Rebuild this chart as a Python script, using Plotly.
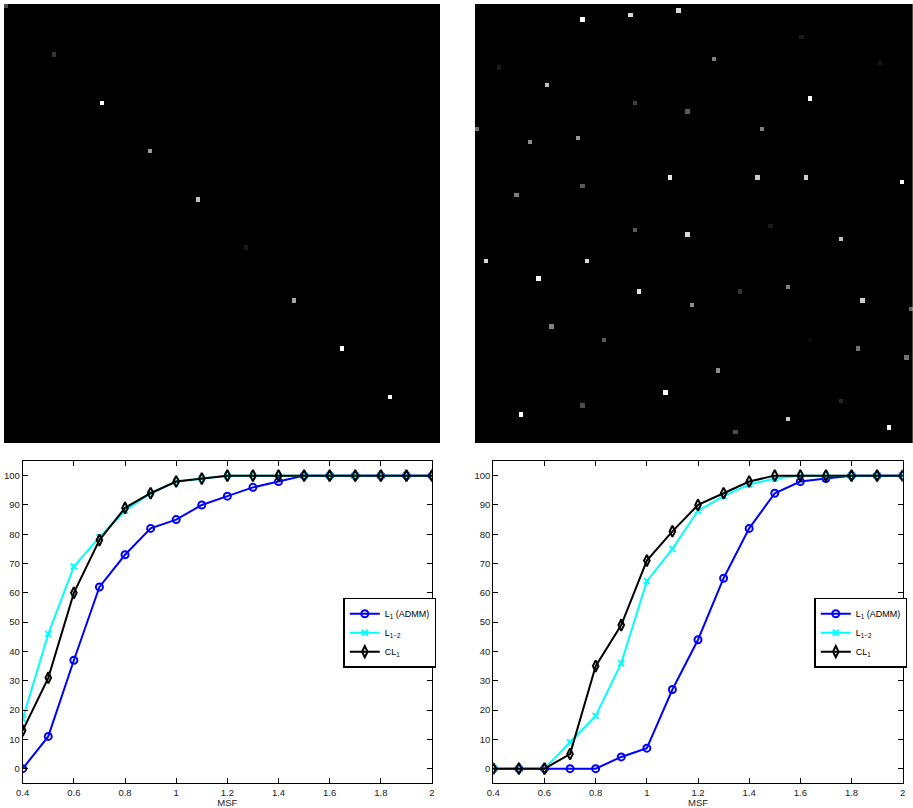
import numpy as np
import plotly.graph_objects as go

# ---------------- data ----------------
img_size = 100
# left sparse image: rows, cols, intensities
left_rows = [0, 11, 22, 33, 44, 55, 67, 78, 89]
left_cols = [0, 11, 22, 33, 44, 55, 66, 77, 88]
left_vals = [0.3, 0.2, 1.0, 0.6, 0.75, 0.1, 0.65, 1.0, 1.0]

# right sparse image
right_rows = [3, 2, 1, 7, 12, 14, 13, 18, 21, 22, 24, 28, 28, 31, 30, 39, 39, 39, 40, 41,
              43, 51, 50, 52, 53, 58, 58, 62, 65, 65, 64, 67, 68, 69, 73, 76, 76, 78, 80, 83,
              88, 91, 90, 93, 94, 96, 97]
right_cols = [24, 35, 46, 74, 54, 5, 92, 16, 76, 36, 48, 0, 65, 12, 23, 44, 64, 75, 97, 24,
              9, 36, 67, 48, 83, 2, 25, 14, 37, 60, 71, 88, 49, 99, 17, 29, 76, 87, 98, 55,
              43, 24, 83, 10, 71, 94, 59]
right_vals = [1.0, 0.85, 0.85, 0.1, 0.5, 0.1, 0.08, 0.75, 1.0, 0.25, 0.35, 0.45, 0.5, 0.55, 0.6, 0.9, 0.8, 0.8, 1.0, 0.35,
              0.5, 0.35, 0.1, 0.85, 0.75, 0.85, 0.85, 1.0, 0.9, 0.2, 0.5, 0.8, 0.55, 0.4, 0.5, 0.35, 0.05, 0.45, 0.45, 0.55,
              1.0, 0.3, 0.15, 1.0, 0.8, 1.0, 0.3]

msf = [0.4, 0.5, 0.6, 0.7, 0.8, 0.9, 1.0, 1.1, 1.2, 1.3, 1.4, 1.5, 1.6, 1.7, 1.8, 1.9, 2.0]

left_l1 = [0, 11, 37, 62, 73, 82, 85, 90, 93, 96, 98, 100, 100, 100, 100, 100, 100]
left_l12 = [17, 46, 69, 79, 88, 94, 98, 99, 100, 100, 100, 100, 100, 100, 100, 100, 100]
left_cl1 = [13, 31, 60, 78, 89, 94, 98, 99, 100, 100, 100, 100, 100, 100, 100, 100, 100]

right_l1 = [0, 0, 0, 0, 0, 4, 7, 27, 44, 65, 82, 94, 98, 99, 100, 100, 100]
right_l12 = [0, 0, 0, 9, 18, 36, 64, 75, 88, 93, 97, 99, 100, 100, 100, 100, 100]
right_cl1 = [0, 0, 0, 5, 35, 49, 71, 81, 90, 94, 98, 100, 100, 100, 100, 100, 100]

series_names = ["L<sub>1</sub> (ADMM)", "L<sub>1\u22122</sub>", "CL<sub>1</sub>"]
x_tickvals = [0.4, 0.6, 0.8, 1.0, 1.2, 1.4, 1.6, 1.8, 2.0]
x_ticktext = ["0.4", "0.6", "0.8", "1", "1.2", "1.4", "1.6", "1.8", "2"]
y_tickvals = [0, 10, 20, 30, 40, 50, 60, 70, 80, 90, 100]

# ---------------- figure ----------------
W, H = 913, 808
def px_x(a, b):
    return [a / W, b / W]
def px_y(top, bottom):
    return [1 - bottom / H, 1 - top / H]

def build_img(rows, cols, vals):
    z = np.zeros((img_size, img_size))
    for r, c, v in zip(rows, cols, vals):
        z[r, c] = v
    return z

fig = go.Figure()
gray = [[0, "black"], [1, "white"]]

fig.add_trace(go.Heatmap(z=build_img(left_rows, left_cols, left_vals), colorscale=gray,
                         zmin=0, zmax=1, showscale=False, xaxis="x3", yaxis="y3", hoverinfo="skip"))
fig.add_trace(go.Heatmap(z=build_img(right_rows, right_cols, right_vals), colorscale=gray,
                         zmin=0, zmax=1, showscale=False, xaxis="x4", yaxis="y4", hoverinfo="skip"))

styles = [
    dict(color="#0000ff", symbol="circle-open", size=7, width=2),
    dict(color="#00ffff", symbol="x-thin-open", size=6, width=2),
    dict(color="#000000", symbol="diamond-tall-open", size=8, width=2),
]

for xa, ya, leg, data in [("x", "y", "legend", [left_l1, left_l12, left_cl1]),
                          ("x2", "y2", "legend2", [right_l1, right_l12, right_cl1])]:
    for name, vals, st in zip(series_names, data, styles):
        fig.add_trace(go.Scatter(
            x=msf, y=vals, name=name, mode="lines+markers", xaxis=xa, yaxis=ya, legend=leg,
            line=dict(color=st["color"], width=st["width"]),
            marker=dict(symbol=st["symbol"], size=st["size"], color=st["color"],
                        line=dict(color=st["color"], width=2)),
        ))

font = dict(family="Liberation Sans, Arial, sans-serif", size=9.5, color="#222222")

common_x = dict(range=[0.4, 2.0], tickvals=x_tickvals, ticktext=x_ticktext, ticks="inside",
                ticklen=5, tickcolor="black", showline=True, linecolor="black", linewidth=1,
                mirror="ticks", showgrid=False, zeroline=False, tickfont=font, automargin=False,
                title=dict(text="MSF", font=font, standoff=0))
common_y = dict(range=[-5, 105], tickvals=y_tickvals, ticks="inside", ticklen=5,
                tickcolor="black", showline=True, linecolor="black", linewidth=1,
                mirror="ticks", showgrid=False, zeroline=False, tickfont=font, automargin=False)

img_ax_x = dict(showgrid=False, zeroline=False, showticklabels=False, ticks="", automargin=False,
                range=[-0.5, img_size - 0.5], showline=False)
img_ax_y = dict(showgrid=False, zeroline=False, showticklabels=False, ticks="", automargin=False,
                range=[img_size - 0.5, -0.5], showline=False)

legend_common = dict(bgcolor="white", bordercolor="black", borderwidth=1.5,
                     font=dict(family="Liberation Sans, Arial, sans-serif", size=9, color="black"),
                     xanchor="left", yanchor="top", tracegroupgap=0, itemwidth=30)

fig.update_layout(
    template="none",
    width=W, height=H,
    margin=dict(l=0, r=0, t=0, b=0, pad=0),
    paper_bgcolor="white", plot_bgcolor="white",
    xaxis=dict(domain=px_x(22.7, 432), anchor="y", **common_x),
    yaxis=dict(domain=px_y(461, 783.3), anchor="x", **common_y),
    xaxis2=dict(domain=px_x(493.3, 902.7), anchor="y2", **common_x),
    yaxis2=dict(domain=px_y(461, 783.3), anchor="x2", **common_y),
    xaxis3=dict(domain=px_x(4, 440), anchor="y3", **img_ax_x),
    yaxis3=dict(domain=px_y(4, 443), anchor="x3", **img_ax_y),
    xaxis4=dict(domain=px_x(475, 912.7), anchor="y4", **img_ax_x),
    yaxis4=dict(domain=px_y(4, 443), anchor="x4", **img_ax_y),
    legend=dict(x=343.3 / W, y=1 - 597.7 / H, **legend_common),
    legend2=dict(x=814.3 / W, y=1 - 597.7 / H, **legend_common),
    showlegend=True,
)

fig.write_html("out.html")
